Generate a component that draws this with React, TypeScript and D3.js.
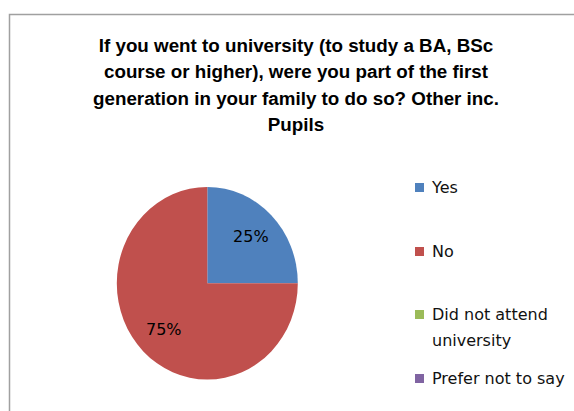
import React from "react";
import * as d3 from "d3";

const categories = ["Yes", "No", "Did not attend university", "Prefer not to say"];
const values = [25, 75, 0, 0];
const colors = ["#4F81BD", "#C0504D", "#9BBB59", "#8064A2"];
const legendLines = [["Yes"], ["No"], ["Did not attend", "university"], ["Prefer not to say"]];
const titleLines = [
  "If you went to university (to study a BA, BSc",
  "course or higher), were you part of the first",
  "generation in your family to do so? Other inc.",
  "Pupils",
];

export default function App() {
  const W = 574, H = 411;
  const cx = 207.3, cy = 283.3, rx = 90.5, ry = 96.3;
  const pie = d3.pie<number>().value((d) => d).sort(null);
  const arcs = pie(values);
  const arc = d3.arc<d3.PieArcDatum<number>>().innerRadius(0).outerRadius(ry);
  const labelArc = d3.arc<d3.PieArcDatum<number>>().innerRadius(ry * 0.68).outerRadius(ry * 0.68);
  const total = d3.sum(values);
  const legendBaselines = [193, 257, 320, 384];
  const titleFont = "'Liberation Sans', Arial, sans-serif";
  const bodyFont = "'DejaVu Sans', Verdana, sans-serif";
  return (
    <svg width={W} height={H} style={{ position: "absolute", left: 0, top: 0 }}>
      <rect x={0} y={0} width={W} height={H} fill="#fff" />
      <rect x={9.5} y={14.5} width={W + 20} height={H + 20} fill="#fff" stroke="#a0a0a0" strokeWidth={1.5} />
      <g fontFamily={titleFont} fontWeight="bold" fontSize={18.8} fill="#000" textAnchor="middle">
        {titleLines.map((t, i) => (
          <text key={i} x={296} y={52 + i * 26.4}>{t}</text>
        ))}
      </g>
      <g transform={`translate(${cx},${cy}) scale(${rx / ry},1)`}>
        {arcs.map((a, i) =>
          a.value > 0 ? <path key={i} d={arc(a) || ""} fill={colors[i]} /> : null
        )}
      </g>
      <g fontFamily={bodyFont} fontSize={16} fill="#000" textAnchor="middle">
        {arcs.map((a, i) => {
          if (a.value <= 0) return null;
          const [lx, ly] = labelArc.centroid(a);
          return (
            <text key={i} x={cx + lx * (rx / ry)} y={cy + ly} dominantBaseline="central">
              {`${Math.round((a.value / total) * 100)}%`}
            </text>
          );
        })}
      </g>
      <g fontFamily={bodyFont} fontSize={16} fill="#111">
        {categories.map((c, i) => (
          <g key={c}>
            <rect x={415} y={legendBaselines[i] - 10} width={9} height={9} fill={colors[i]} />
            {legendLines[i].map((ln, j) => (
              <text key={j} x={432} y={legendBaselines[i] + j * 26}>{ln}</text>
            ))}
          </g>
        ))}
      </g>
    </svg>
  );
}
